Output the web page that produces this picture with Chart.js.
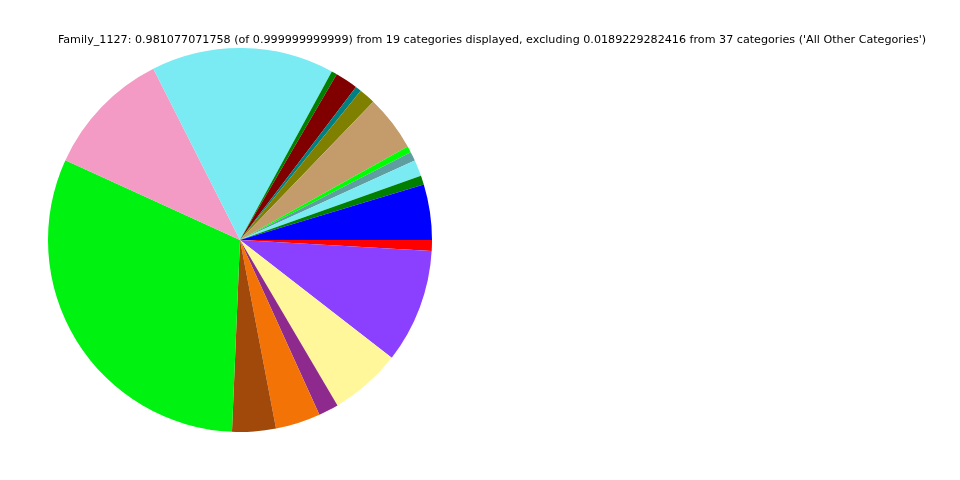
<!DOCTYPE html>
<html>
<head>
<meta charset="utf-8">
<script src="https://cdn.jsdelivr.net/npm/chart.js@4"></script>
<style>
  html, body { margin: 0; padding: 0; background: #fff; }
  #wrap { width: 960px; height: 480px; position: relative; }
</style>
</head>
<body>
<div id="wrap"><canvas id="myChart" width="960" height="480"></canvas></div>
<script>
// slices in matplotlib order (counter-clockwise from 3 o'clock)
const categories = [
    'Cat 1', 'Cat 2', 'Cat 3', 'Cat 4', 'Cat 5', 'Cat 6', 'Cat 7', 'Cat 8', 'Cat 9', 'Cat 10',
    'Cat 11', 'Cat 12', 'Cat 13', 'Cat 14', 'Cat 15', 'Cat 16', 'Cat 17', 'Cat 18', 'Cat 19'
];
const values = [
    0.0458, 0.0074, 0.0134, 0.0076, 0.0052, 0.0461, 0.0136, 0.0049, 0.0188, 0.0046,
    0.1510, 0.1052, 0.3057, 0.0360, 0.0371, 0.0166, 0.0591, 0.0940, 0.0090
];
const colors = [
    '#0000ff', '#007f00', '#7aebf3', '#5f9ea0', '#00ff00', '#c49c6c', '#808000', '#008080', '#800000', '#007f00',
    '#7aebf3', '#f39bc4', '#00f210', '#a0490a', '#f47306', '#8e2a8e', '#fff799', '#8b3fff', '#ff0000'
];
const titleText = "Family_1127: 0.981077071758 (of 0.999999999999) from 19 categories displayed, excluding 0.0189229282416 from 37 categories ('All Other Categories')";

// Chart.js draws clockwise, so reverse to mimic the counter-clockwise layout
const labels = categories.slice().reverse();
const data = values.slice().reverse();
const bg = colors.slice().reverse();

const titlePlugin = {
    id: 'topTitle',
    afterDraw(chart) {
        const c = chart.ctx;
        c.save();
        c.font = '11.15px "DejaVu Sans"';
        c.fillStyle = '#000';
        c.textAlign = 'center';
        c.textBaseline = 'middle';
        c.fillText(titleText, 492, 40);
        c.restore();
    }
};

const ctx = document.getElementById('myChart');
new Chart(ctx.getContext('2d'), {
    type: 'pie',
    data: {
        labels: labels,
        datasets: [{
            data: data,
            backgroundColor: bg,
            borderWidth: 0
        }]
    },
    options: {
        responsive: false,
        animation: false,
        rotation: 90,
        layout: {
            padding: { left: 48, top: 48, right: 528, bottom: 48 }
        },
        plugins: {
            legend: { display: false },
            tooltip: { enabled: false }
        }
    },
    plugins: [titlePlugin]
});
</script>
</body>
</html>
